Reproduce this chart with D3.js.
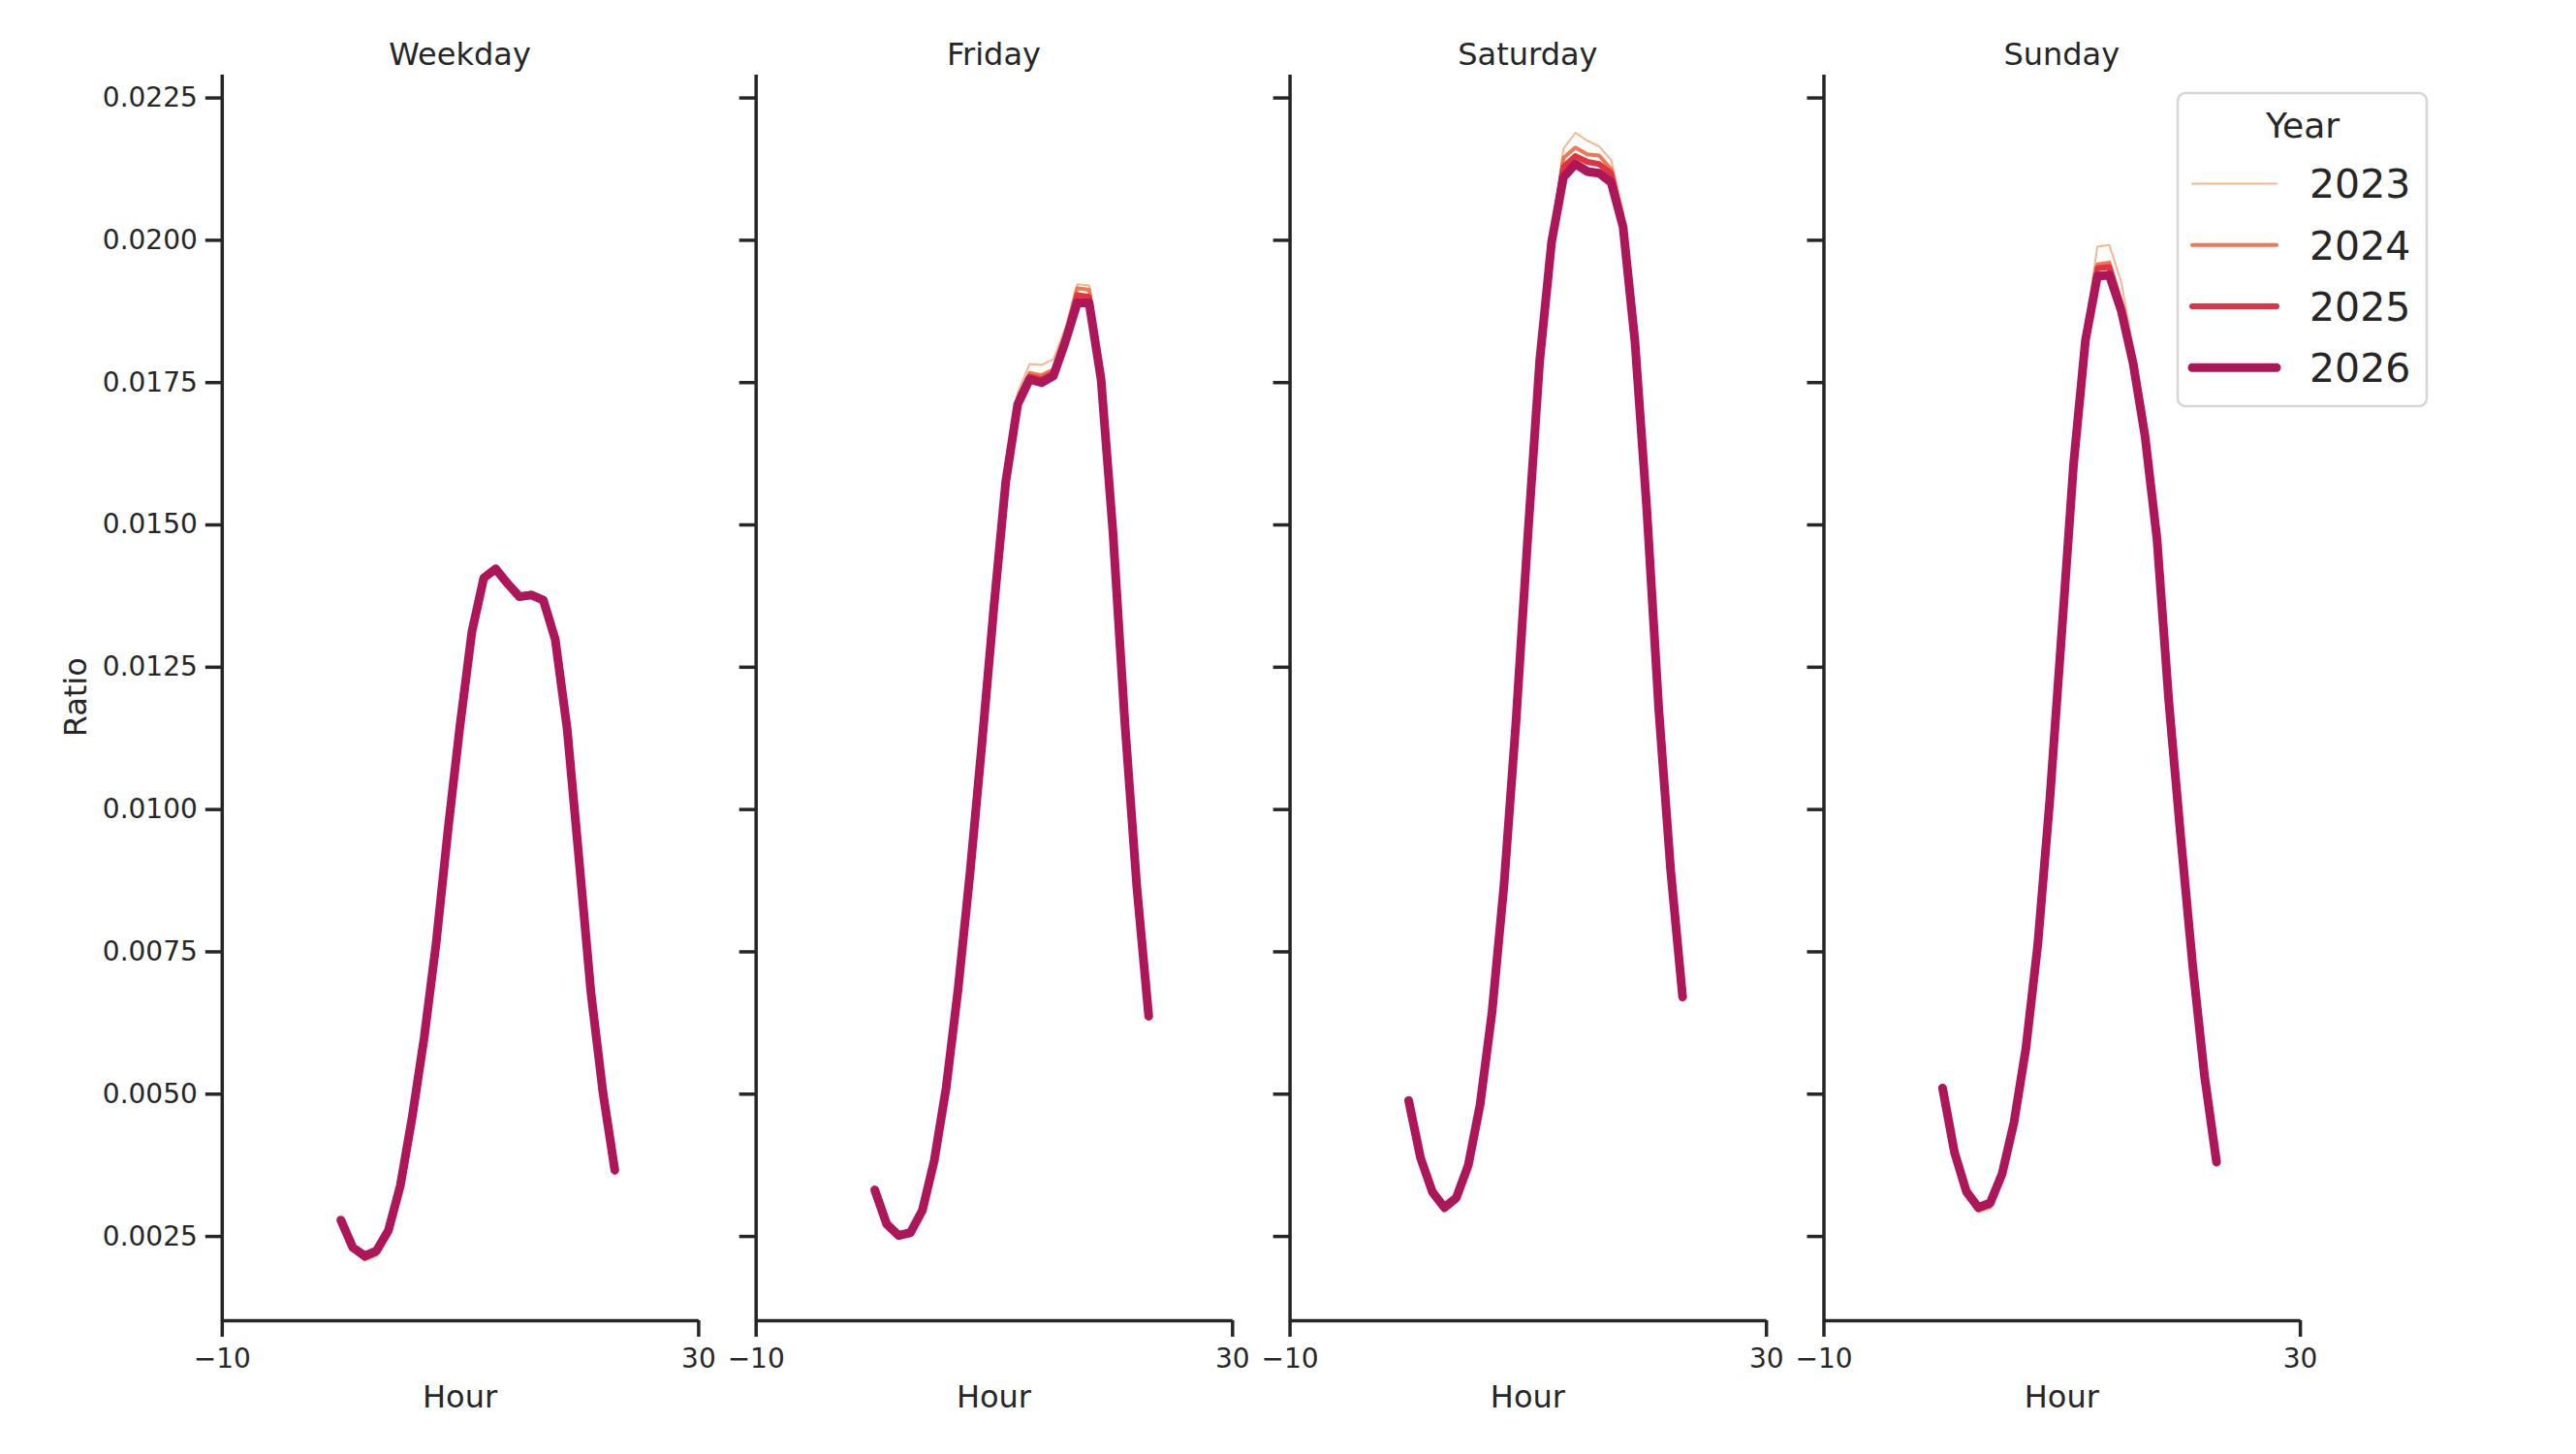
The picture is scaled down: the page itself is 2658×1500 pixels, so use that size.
<!DOCTYPE html>
<html>
<head>
<title>Hourly Ratio by Day Type</title>
<style>
body {
  margin: 0;
  background-color: white;
}
svg {
  display: block;
  font-family: "DejaVu Sans", sans-serif;
}
.axis path,
.axis line {
  fill: none;
  stroke: #262626;
  stroke-width: 3.5px;
}
.axis text {
  fill: #262626;
  font-family: "DejaVu Sans", sans-serif;
  font-size: 28px;
}
.line {
  fill: none;
  stroke-linecap: round;
  stroke-linejoin: round;
}
</style>
<script src="https://d3js.org/d3.v7.min.js"></script>
</head>
<body>

<svg width="2658" height="1500"></svg>

<script>
  // values
  const hours = [0, 1, 2, 3, 4, 5, 6, 7, 8, 9, 10, 11, 12, 13, 14, 15, 16, 17, 18, 19, 20, 21, 22, 23];
  const panels = ['Weekday', 'Friday', 'Saturday', 'Sunday'];
  const years = ['2023', '2024', '2025', '2026'];
  const yearColors = ['#f6b48f', '#f37651', '#e13342', '#ad1759'];
  const yearWidths = [2, 4, 6, 9];
  const yTicks = [0.0025, 0.0050, 0.0075, 0.0100, 0.0125, 0.0150, 0.0175, 0.0200, 0.0225];
  const xTicks = [-10, 30];

  const weekday2023 = [0.00276, 0.00226, 0.00207, 0.00215, 0.00255, 0.00336, 0.00458, 0.00598, 0.00763, 0.00964, 0.01146, 0.01312, 0.01407, 0.01423, 0.01398, 0.01378, 0.01381, 0.01370, 0.01300, 0.01140, 0.00909, 0.00674, 0.00499, 0.00358];
  const weekday2024 = [0.00277, 0.00227, 0.00209, 0.00218, 0.00257, 0.00337, 0.00459, 0.00598, 0.00763, 0.00964, 0.01146, 0.01311, 0.01406, 0.01422, 0.01397, 0.01377, 0.01380, 0.01369, 0.01299, 0.01141, 0.00910, 0.00675, 0.00501, 0.00361];
  const weekday2025 = [0.00278, 0.00229, 0.00212, 0.00221, 0.00259, 0.00338, 0.00460, 0.00599, 0.00764, 0.00964, 0.01146, 0.01311, 0.01406, 0.01422, 0.01396, 0.01375, 0.01378, 0.01368, 0.01298, 0.01141, 0.00911, 0.00676, 0.00502, 0.00364];
  const weekday2026 = [0.00278, 0.00230, 0.00215, 0.00224, 0.00260, 0.00339, 0.00460, 0.00599, 0.00764, 0.00964, 0.01146, 0.01311, 0.01406, 0.01422, 0.01396, 0.01373, 0.01376, 0.01367, 0.01298, 0.01141, 0.00911, 0.00677, 0.00503, 0.00366];

  const friday2023 = [0.00330, 0.00266, 0.00245, 0.00250, 0.00292, 0.00381, 0.00510, 0.00684, 0.00889, 0.01117, 0.01358, 0.01582, 0.01732, 0.01782, 0.01780, 0.01790, 0.01845, 0.01922, 0.01920, 0.01762, 0.01488, 0.01152, 0.00864, 0.00634];
  const friday2024 = [0.00330, 0.00268, 0.00247, 0.00252, 0.00293, 0.00382, 0.00510, 0.00684, 0.00888, 0.01116, 0.01356, 0.01579, 0.01722, 0.01766, 0.01762, 0.01772, 0.01832, 0.01915, 0.01912, 0.01759, 0.01487, 0.01151, 0.00864, 0.00635];
  const friday2025 = [0.00331, 0.00270, 0.00249, 0.00254, 0.00294, 0.00383, 0.00511, 0.00684, 0.00888, 0.01115, 0.01355, 0.01577, 0.01716, 0.01760, 0.01755, 0.01766, 0.01826, 0.01903, 0.01900, 0.01757, 0.01486, 0.01151, 0.00864, 0.00636];
  const friday2026 = [0.00331, 0.00271, 0.00251, 0.00256, 0.00295, 0.00383, 0.00511, 0.00684, 0.00888, 0.01115, 0.01354, 0.01575, 0.01711, 0.01755, 0.01749, 0.01761, 0.01821, 0.01889, 0.01889, 0.01755, 0.01486, 0.01151, 0.00864, 0.00636];

  const saturday2023 = [0.00487, 0.00384, 0.00321, 0.00293, 0.00310, 0.00370, 0.00479, 0.00642, 0.00866, 0.01152, 0.01482, 0.01792, 0.02010, 0.02160, 0.02188, 0.02174, 0.02164, 0.02140, 0.02050, 0.01832, 0.01530, 0.01177, 0.00890, 0.00664];
  const saturday2024 = [0.00487, 0.00385, 0.00323, 0.00295, 0.00312, 0.00371, 0.00480, 0.00642, 0.00865, 0.01151, 0.01480, 0.01790, 0.02002, 0.02144, 0.02162, 0.02150, 0.02148, 0.02124, 0.02030, 0.01826, 0.01527, 0.01176, 0.00891, 0.00666];
  const saturday2025 = [0.00488, 0.00386, 0.00325, 0.00298, 0.00315, 0.00373, 0.00481, 0.00643, 0.00865, 0.01150, 0.01479, 0.01788, 0.01998, 0.02128, 0.02147, 0.02137, 0.02133, 0.02117, 0.02027, 0.01823, 0.01526, 0.01175, 0.00892, 0.00668];
  const saturday2026 = [0.00488, 0.00387, 0.00327, 0.00300, 0.00317, 0.00374, 0.00481, 0.00643, 0.00865, 0.01150, 0.01478, 0.01787, 0.01996, 0.02110, 0.02133, 0.02120, 0.02117, 0.02101, 0.02023, 0.01821, 0.01525, 0.01175, 0.00892, 0.00670];

  const sunday2023 = [0.00508, 0.00394, 0.00322, 0.00292, 0.00298, 0.00352, 0.00446, 0.00578, 0.00764, 0.01018, 0.01315, 0.01618, 0.01845, 0.01988, 0.01991, 0.01926, 0.01810, 0.01670, 0.01482, 0.01190, 0.00948, 0.00722, 0.00526, 0.00373];
  const sunday2024 = [0.00509, 0.00395, 0.00324, 0.00295, 0.00302, 0.00355, 0.00448, 0.00579, 0.00763, 0.01016, 0.01311, 0.01612, 0.01832, 0.01957, 0.01960, 0.01890, 0.01792, 0.01660, 0.01478, 0.01189, 0.00949, 0.00723, 0.00528, 0.00376];
  const sunday2025 = [0.00510, 0.00396, 0.00326, 0.00298, 0.00305, 0.00357, 0.00449, 0.00580, 0.00763, 0.01015, 0.01309, 0.01608, 0.01827, 0.01950, 0.01952, 0.01885, 0.01787, 0.01657, 0.01476, 0.01188, 0.00950, 0.00724, 0.00529, 0.00378];
  const sunday2026 = [0.00510, 0.00397, 0.00328, 0.00300, 0.00308, 0.00359, 0.00450, 0.00580, 0.00763, 0.01015, 0.01308, 0.01606, 0.01824, 0.01936, 0.01938, 0.01876, 0.01783, 0.01655, 0.01475, 0.01188, 0.00950, 0.00725, 0.00530, 0.00380];

  const panelSeries = [
    [weekday2023, weekday2024, weekday2025, weekday2026],
    [friday2023, friday2024, friday2025, friday2026],
    [saturday2023, saturday2024, saturday2025, saturday2026],
    [sunday2023, sunday2024, sunday2025, sunday2026]
  ];

  function createChart() {
    const svg = d3.select('svg');
    const firstLeft = 228.8;
    const panelWidth = 491.6;
    const panelGap = 59.3;
    const top = 76.5;
    const bottom = 1362;

    const x = d3.scaleLinear().domain([-10, 30]).range([0, panelWidth]);
    const y = d3.scaleLinear().domain([0.00102, 0.02291]).range([bottom, top]);

    const lineGenerator = d3.line()
      .x((d, i) => x(hours[i]))
      .y(d => y(d));

    panels.forEach((name, p) => {
      const g = svg.append('g')
        .attr('transform', `translate(${firstLeft + p * (panelWidth + panelGap)},0)`);

      // y axis, labels only on the first facet
      const yAxis = d3.axisLeft(y)
        .tickValues(yTicks)
        .tickSize(17)
        .tickSizeOuter(0)
        .tickPadding(8)
        .tickFormat(p === 0 ? d3.format('.4f') : '');
      g.append('g').attr('class', 'axis').call(yAxis);

      const xAxis = d3.axisBottom(x)
        .tickValues(xTicks)
        .tickSize(17)
        .tickSizeOuter(0)
        .tickPadding(12)
        .tickFormat(d => d < 0 ? '\u2212' + Math.abs(d) : d);
      g.append('g')
        .attr('class', 'axis')
        .attr('transform', `translate(0,${bottom})`)
        .call(xAxis);

      // lines, lightest year first
      panelSeries[p].forEach((values, k) => {
        g.append('path')
          .datum(values)
          .attr('class', 'line')
          .attr('d', lineGenerator)
          .style('stroke', yearColors[k])
          .style('stroke-width', yearWidths[k]);
      });

      g.append('text')
        .attr('x', panelWidth / 2)
        .attr('y', 67)
        .attr('text-anchor', 'middle')
        .attr('fill', '#262626')
        .attr('font-size', 32)
        .text(name);

      g.append('text')
        .attr('x', panelWidth / 2)
        .attr('y', 1452)
        .attr('text-anchor', 'middle')
        .attr('fill', '#262626')
        .attr('font-size', 32)
        .text('Hour');
    });

    svg.append('text')
      .attr('transform', `translate(89,${(top + bottom) / 2}) rotate(-90)`)
      .attr('text-anchor', 'middle')
      .attr('fill', '#262626')
      .attr('font-size', 32)
      .text('Ratio');

    // legend
    const legend = svg.append('g');
    legend.append('rect')
      .attr('x', 2247)
      .attr('y', 96)
      .attr('width', 257)
      .attr('height', 323)
      .attr('rx', 8)
      .attr('fill', 'white')
      .attr('fill-opacity', 0.8)
      .attr('stroke', '#d6d6d6')
      .attr('stroke-width', 2.5);

    legend.append('text')
      .attr('x', 2376)
      .attr('y', 142)
      .attr('text-anchor', 'middle')
      .attr('fill', '#262626')
      .attr('font-size', 36)
      .text('Year');

    const item = legend.selectAll('g.item')
      .data(years)
      .enter().append('g')
      .attr('class', 'item')
      .attr('transform', (d, i) => `translate(0,${189.4 + i * 63.3})`);

    item.append('line')
      .attr('x1', 2262)
      .attr('x2', 2349)
      .attr('stroke', (d, i) => yearColors[i])
      .attr('stroke-width', (d, i) => yearWidths[i])
      .attr('stroke-linecap', 'round');

    item.append('text')
      .attr('x', 2383)
      .attr('y', 15)
      .attr('fill', '#262626')
      .attr('font-size', 41)
      .text(d => d);
  }
  createChart();
</script>

</body>
</html>
